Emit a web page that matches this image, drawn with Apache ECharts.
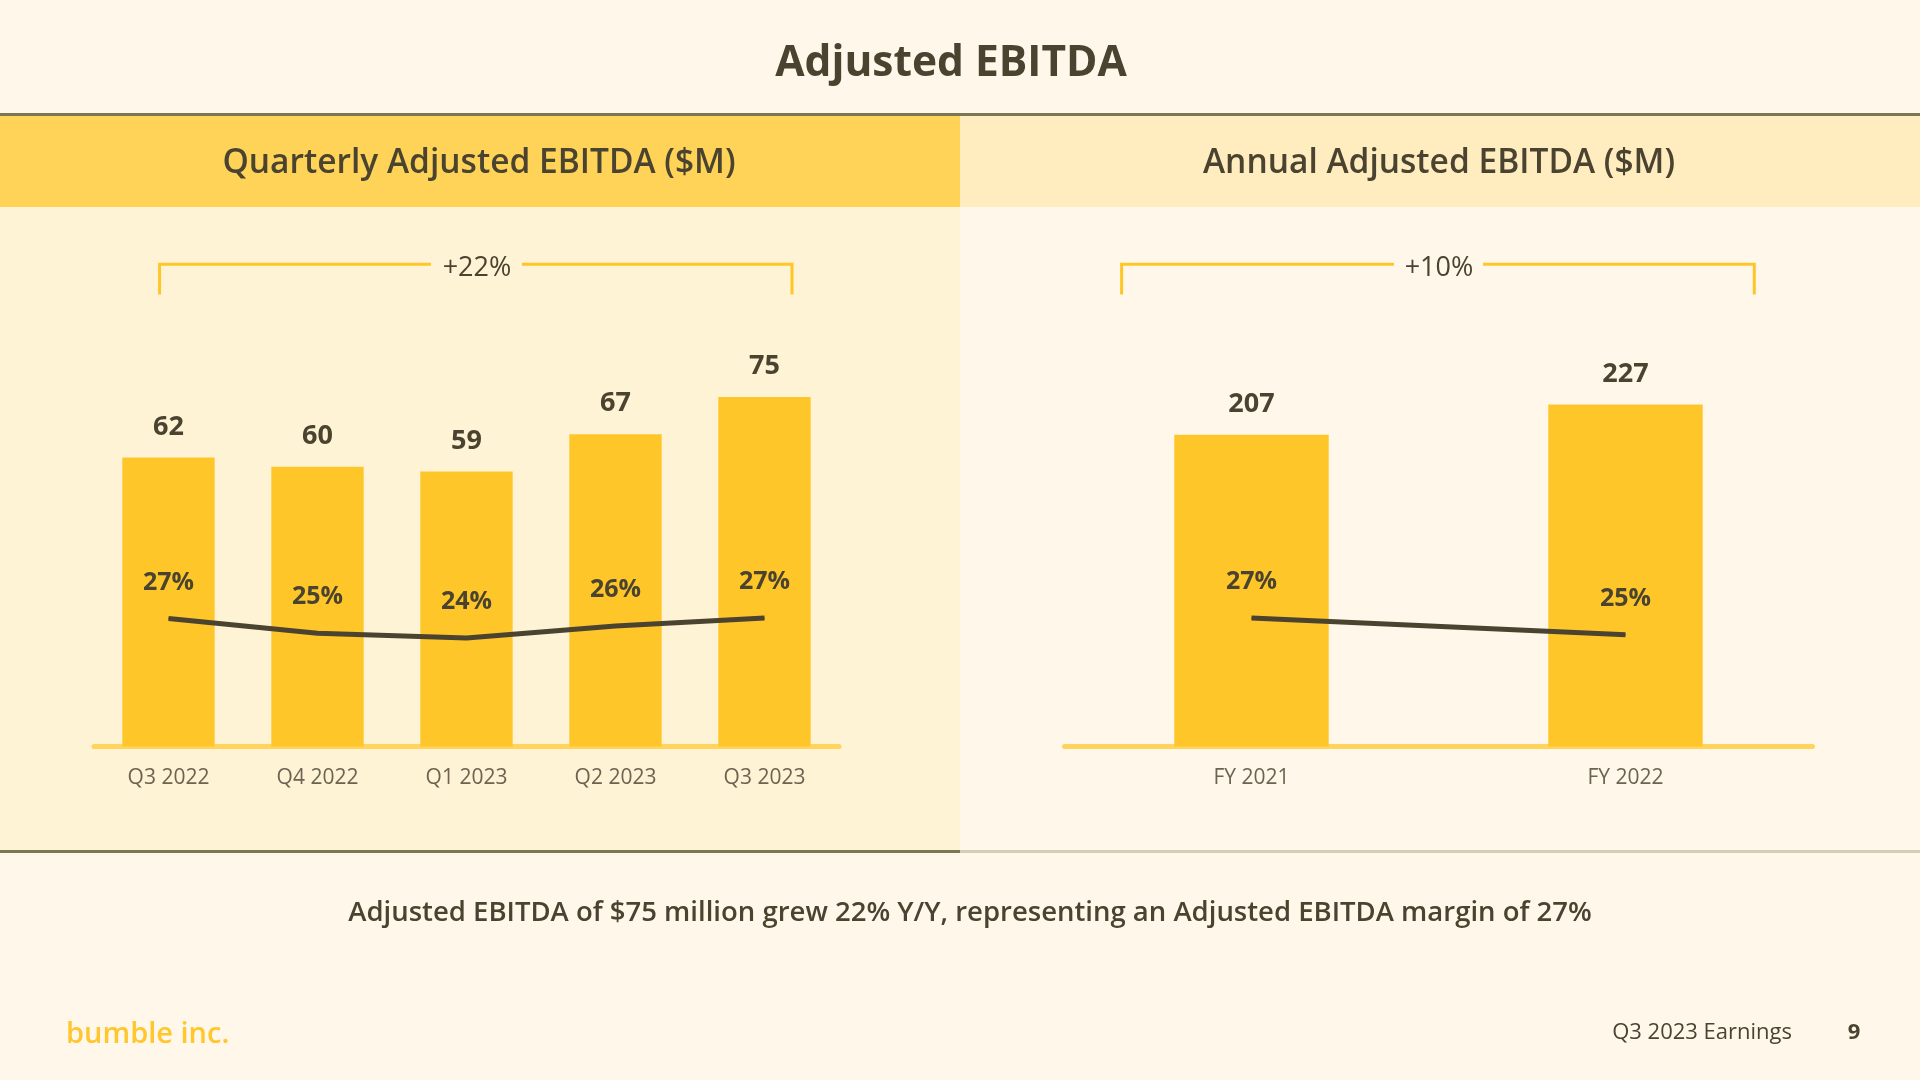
<!DOCTYPE html>
<html>
<head>
<meta charset="utf-8">
<script src="https://cdn.jsdelivr.net/npm/echarts@6/dist/echarts.min.js"></script>
<style>
html,body{margin:0;padding:0;background:#FFF8EA;}
#chart{width:1920px;height:1080px;}
</style>
</head>
<body>
<div id="chart"></div>
<script>
// ---- Data ----
const pageTitle = 'Adjusted EBITDA';
const quarterlyTitle = 'Quarterly Adjusted EBITDA ($M)';
const annualTitle = 'Annual Adjusted EBITDA ($M)';
const quarterCategories = ['Q3 2022', 'Q4 2022', 'Q1 2023', 'Q2 2023', 'Q3 2023'];
const quarterEbitda = [62, 60, 59, 67, 75];
const quarterMargin = [27.2, 25.0, 24.3, 26.1, 27.3];
const yearCategories = ['FY 2021', 'FY 2022'];
const yearEbitda = [207, 227];
const yearMargin = [27.0, 25.1];
const growthLabels = ['+22%', '+10%'];
const footnote = 'Adjusted EBITDA of $75 million grew 22% Y/Y, representing an Adjusted EBITDA margin of 27%';
const footerLeft = 'bumble inc.';
const footerRight = 'Q3 2023 Earnings';
const pageNumber = '9';

// ---- Styles ----
const DARK = '#4A4330';
const BAR = '#FFC629';
const FONT = '"Open Sans", "Noto Sans", sans-serif';

const chart = echarts.init(document.getElementById('chart'), null, {renderer: 'canvas'});

function bracket(x1, x2, gapL, gapR, yTop, yBot) {
  return [
    {type: 'polyline', z: 5, shape: {points: [[x1, yBot], [x1, yTop], [gapL, yTop]]},
     style: {stroke: BAR, lineWidth: 3, fill: null}},
    {type: 'polyline', z: 5, shape: {points: [[gapR, yTop], [x2, yTop], [x2, yBot]]},
     style: {stroke: BAR, lineWidth: 3, fill: null}}
  ];
}

const graphics = [
  // backgrounds
  {type: 'rect', z: 0, shape: {x: 0, y: 0, width: 1920, height: 1080}, style: {fill: '#FFF8EA'}},
  {type: 'rect', z: 0, shape: {x: 0, y: 116, width: 960, height: 91}, style: {fill: '#FFD258'}},
  {type: 'rect', z: 0, shape: {x: 960, y: 116, width: 960, height: 91}, style: {fill: '#FFEDC0'}},
  {type: 'rect', z: 0, shape: {x: 0, y: 207, width: 960, height: 644}, style: {fill: '#FFF3D5'}},
  {type: 'rect', z: 0, shape: {x: 960, y: 207, width: 960, height: 644}, style: {fill: '#FFF8EA'}},
  {type: 'rect', z: 1, shape: {x: 0, y: 113, width: 1920, height: 3}, style: {fill: '#7D7654'}},
  {type: 'rect', z: 1, shape: {x: 0, y: 850, width: 960, height: 3}, style: {fill: '#7D7654'}},
  {type: 'rect', z: 1, shape: {x: 960, y: 850, width: 960, height: 3}, style: {fill: '#D5CEB6'}},
  // texts
  {type: 'text', z: 10, style: {text: pageTitle, x: 951, y: 64, align: 'center', verticalAlign: 'middle',
    font: 'bold 42.5px ' + FONT, fill: DARK}},
  {type: 'text', z: 10, style: {text: quarterlyTitle, x: 479, y: 163, align: 'center', verticalAlign: 'middle',
    font: '600 33.5px ' + FONT, fill: DARK}},
  {type: 'text', z: 10, style: {text: annualTitle, x: 1439, y: 163, align: 'center', verticalAlign: 'middle',
    font: '600 33.5px ' + FONT, fill: DARK}},
  {type: 'text', z: 10, style: {text: growthLabels[0], x: 477, y: 268, align: 'center', verticalAlign: 'middle',
    font: '27px ' + FONT, fill: DARK}},
  {type: 'text', z: 10, style: {text: growthLabels[1], x: 1439, y: 268, align: 'center', verticalAlign: 'middle',
    font: '27px ' + FONT, fill: DARK}},
  {type: 'text', z: 10, style: {text: footnote, x: 970, y: 913, align: 'center', verticalAlign: 'middle',
    font: '600 27.5px ' + FONT, fill: DARK}},
  {type: 'text', z: 10, style: {text: footerLeft, x: 66, y: 1035, align: 'left', verticalAlign: 'middle',
    font: '600 29px ' + FONT, fill: '#FFC62E'}},
  {type: 'text', z: 10, style: {text: footerRight, x: 1792, y: 1033, align: 'right', verticalAlign: 'middle',
    font: '22px ' + FONT, fill: DARK}},
  {type: 'text', z: 10, style: {text: pageNumber, x: 1854, y: 1033, align: 'center', verticalAlign: 'middle',
    font: 'bold 22px ' + FONT, fill: DARK}}
].concat(bracket(159.6, 792, 431, 522, 264.3, 294.6))
 .concat(bracket(1121.6, 1754.3, 1394, 1483, 264.3, 294.6));

const xAxisCommon = {
  type: 'category',
  axisLine: {show: true, lineStyle: {color: '#FFD35C', width: 5}},
  axisTick: {show: false},
  splitLine: {show: false},
  axisLabel: {color: '#6B6450', fontSize: 21, fontFamily: FONT, margin: 21}
};

const barLabel = {show: true, position: 'top', distance: 17, color: DARK,
  fontSize: 27, fontWeight: 'bold', fontFamily: FONT};
const lineLabel = {show: true, position: 'top', distance: 23, color: DARK,
  fontSize: 25, fontWeight: 'bold', fontFamily: FONT,
  formatter: p => Math.round(p.value) + '%'};

chart.setOption({
  animation: false,
  backgroundColor: '#FFF8EA',
  graphic: graphics,
  grid: [
    {left: 94, top: 280.4, width: 745, height: 466},
    {left: 1064.5, top: 294.6, width: 748, height: 451.8}
  ],
  xAxis: [
    Object.assign({gridIndex: 0, data: quarterCategories}, xAxisCommon),
    Object.assign({gridIndex: 1, data: yearCategories}, xAxisCommon)
  ],
  yAxis: [
    {type: 'value', gridIndex: 0, min: 0, max: 100, show: false},
    {type: 'value', gridIndex: 0, min: 8, max: 78, show: false},
    {type: 'value', gridIndex: 1, min: 0, max: 300, show: false},
    {type: 'value', gridIndex: 1, min: 12.5, max: 63.5, show: false}
  ],
  series: [
    {type: 'bar', xAxisIndex: 0, yAxisIndex: 0, data: quarterEbitda, barWidth: '62%',
     itemStyle: {color: BAR}, label: barLabel, z: 3},
    {type: 'line', xAxisIndex: 0, yAxisIndex: 1, data: quarterMargin,
     symbol: 'circle', symbolSize: 1, showSymbol: true,
     lineStyle: {color: DARK, width: 5}, itemStyle: {color: DARK}, label: lineLabel, z: 4},
    {type: 'bar', xAxisIndex: 1, yAxisIndex: 2, data: yearEbitda, barWidth: '41.3%',
     itemStyle: {color: BAR}, label: barLabel, z: 3},
    {type: 'line', xAxisIndex: 1, yAxisIndex: 3, data: yearMargin,
     symbol: 'circle', symbolSize: 1, showSymbol: true,
     lineStyle: {color: DARK, width: 5}, itemStyle: {color: DARK}, label: lineLabel, z: 4}
  ]
});
</script>
</body>
</html>
